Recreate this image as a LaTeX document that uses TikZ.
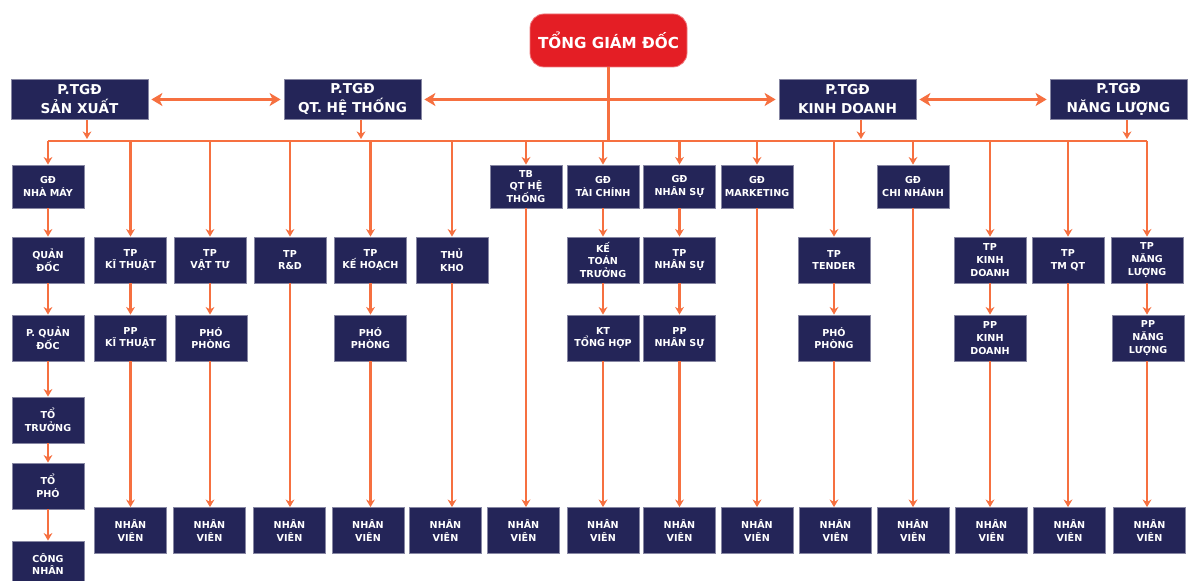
\documentclass[tikz,border=0pt]{standalone}
\usepackage{fontspec}
\setmainfont{DejaVu Sans}
\usetikzlibrary{arrows.meta}
\definecolor{navy}{RGB}{36,37,88}
\definecolor{org}{RGB}{246,112,64}
\definecolor{redbox}{RGB}{228,30,37}
\begin{document}
\begin{tikzpicture}[x=0.5pt,y=-0.5pt,
  box/.style={fill=navy, draw=navy!55!white, line width=0.4pt, text=white,
    font=\bfseries\fontsize{4.8}{6.3}\selectfont, align=center, inner sep=0pt,
    minimum width=36pt, minimum height=23pt},
  rowone/.style={box, minimum height=21.5pt},
  chief/.style={box, font=\bfseries\fontsize{6.8}{9.5}\selectfont, minimum width=68.5pt, minimum height=20pt},
  ceo/.style={fill=redbox, draw=redbox!60!white, line width=0.4pt, rounded corners=7pt, text=white,
    font=\bfseries\fontsize{7.6}{10}\selectfont, inner sep=0pt, minimum width=78.5pt, minimum height=26.5pt},
  link/.style={draw=org, line width=1.1pt},
  arr/.style={link, -{Stealth[length=3.8pt, width=4.4pt]}},
  darr/.style={link, {Stealth[length=5.5pt, width=6.5pt, inset=1.5pt]}-{Stealth[length=5.5pt, width=6.5pt, inset=1.5pt]}, shorten <=1.5pt, shorten >=1.5pt}
]
\fill[white] (0,0) rectangle (1188,581);
\useasboundingbox (0,0) rectangle (1188,581);
\begin{scope}
\clip (0,0) rectangle (1188,581);

% top
\node[ceo] (tgd) at (608.5,40.5) {TỔNG GIÁM ĐỐC};
\node[chief] (sx) at (79.5,99.5) {P.TGĐ\\SẢN XUẤT};
\node[chief] (qt) at (352.5,99.5) {P.TGĐ\\QT. HỆ THỐNG};
\node[chief] (kd) at (847.5,99.5) {P.TGĐ\\KINH DOANH};
\node[chief] (nl) at (1118.5,99.5) {P.TGĐ\\NĂNG LƯỢNG};

% bus coordinates
\coordinate (busY) at (0,141);
\coordinate (a1) at (87,141);
\coordinate (a2) at (361,141);
\coordinate (a3) at (861,141);
\coordinate (a4) at (1127,141);

% row 1
\node[rowone] (gdnm) at (48,186.5) {GĐ\\NHÀ MÁY};
\node[rowone] (tbqt) at (526,186.5) {TB\\QT HỆ\\THỐNG};
\node[rowone] (gdtc) at (603,186.5) {GĐ\\TÀI CHÍNH};
\node[rowone] (gdns) at (679.5,186.5) {GĐ\\NHÂN SỰ};
\node[rowone] (gdmk) at (757,186.5) {GĐ\\MARKETING};
\node[rowone] (gdcn) at (913,186.5) {GĐ\\CHI NHÁNH};

% row 2
\node[box] (qd) at (48,260) {QUẢN\\ĐỐC};
\node[box] (tpkt) at (130.5,260) {TP\\KĨ THUẬT};
\node[box] (tpvt) at (210,260) {TP\\VẬT TƯ};
\node[box] (tprd) at (290,260) {TP\\R\&D};
\node[box] (tpkh) at (370.5,260) {TP\\KẾ HOẠCH};
\node[box] (thukho) at (452,260) {THỦ\\KHO};
\node[box] (ktt) at (603,260) {KẾ\\TOÁN\\TRƯỞNG};
\node[box] (tpns) at (679.5,260) {TP\\NHÂN SỰ};
\node[box] (tptd) at (834,260) {TP\\TENDER};
\node[box] (tpkd) at (990,260) {TP\\KINH\\DOANH};
\node[box] (tptm) at (1068,260) {TP\\TM QT};
\node[box] (tpnl) at (1147,260) {TP\\NĂNG\\LƯỢNG};

% row 3
\node[box] (pqd) at (48,338) {P. QUẢN\\ĐỐC};
\node[box] (ppkt) at (130.5,338) {PP\\KĨ THUẬT};
\node[box] (ppvt) at (211,338) {PHÓ\\PHÒNG};
\node[box] (ppkh) at (370.5,338) {PHÓ\\PHÒNG};
\node[box] (kth) at (603,338) {KT\\TỔNG HỢP};
\node[box] (ppns) at (679.5,338) {PP\\NHÂN SỰ};
\node[box] (pptd) at (834,338) {PHÓ\\PHÒNG};
\node[box] (ppkd) at (990,338) {PP\\KINH\\DOANH};
\node[box] (ppnl) at (1148,338) {PP\\NĂNG\\LƯỢNG};

% left column lower
\node[box] (tt) at (48,420) {TỔ\\TRƯỞNG};
\node[box] (tph) at (48,486) {TỔ\\PHÓ};
\node[box] (cn) at (48,564) {CÔNG\\NHÂN};

% staff row
\node[box] (nv1) at (130.5,530.5) {NHÂN\\VIÊN};
\node[box] (nv2) at (209.5,530.5) {NHÂN\\VIÊN};
\node[box] (nv3) at (289.5,530.5) {NHÂN\\VIÊN};
\node[box] (nv4) at (368,530.5) {NHÂN\\VIÊN};
\node[box] (nv5) at (445.5,530.5) {NHÂN\\VIÊN};
\node[box] (nv6) at (523.5,530.5) {NHÂN\\VIÊN};
\node[box] (nv7) at (603,530.5) {NHÂN\\VIÊN};
\node[box] (nv8) at (679.5,530.5) {NHÂN\\VIÊN};
\node[box] (nv9) at (757,530.5) {NHÂN\\VIÊN};
\node[box] (nv10) at (835.5,530.5) {NHÂN\\VIÊN};
\node[box] (nv11) at (913,530.5) {NHÂN\\VIÊN};
\node[box] (nv12) at (991.5,530.5) {NHÂN\\VIÊN};
\node[box] (nv13) at (1069.5,530.5) {NHÂN\\VIÊN};
\node[box] (nv14) at (1149.5,530.5) {NHÂN\\VIÊN};

% top connectors
\draw[darr] (sx.east) -- (qt.west);
\draw[darr] (qt.east) -- (kd.west);
\draw[darr] (kd.east) -- (nl.west);
\draw[link] (tgd.south) -- (tgd.south |- busY);
\draw[link] (gdnm.north |- busY) -- (tpnl.north |- busY);
\draw[arr] (sx.south -| a1) -- ([yshift=1pt]a1);
\draw[arr] (qt.south -| a2) -- ([yshift=1pt]a2);
\draw[arr] (kd.south -| a3) -- ([yshift=1pt]a3);
\draw[arr] (nl.south -| a4) -- ([yshift=1pt]a4);

% bus to first boxes
\foreach \n in {gdnm,tbqt,gdtc,gdns,gdmk,gdcn,tpkt,tpvt,tprd,tpkh,thukho,tptd,tpkd,tptm,tpnl}
  \draw[arr] (\n.north |- busY) -- (\n.north);

% chains
\draw[arr] (gdnm) -- (qd);
\draw[arr] (qd) -- (pqd);
\draw[arr] (pqd) -- (tt);
\draw[arr] (tt) -- (tph);
\draw[arr] (tph) -- (cn);
\draw[arr] (tpkt) -- (ppkt);
\draw[arr] (tpvt.south) -- (tpvt.south |- ppvt.north);
\draw[arr] (tpkh) -- (ppkh);
\draw[arr] (gdtc) -- (ktt);
\draw[arr] (ktt) -- (kth);
\draw[arr] (gdns) -- (tpns);
\draw[arr] (tpns) -- (ppns);
\draw[arr] (tptd) -- (pptd);
\draw[arr] (tpkd) -- (ppkd);
\draw[arr] (tpnl.south) -- (tpnl.south |- ppnl.north);

% to staff
\draw[arr] (ppkt.south) -- (ppkt.south |- nv1.north);
\draw[arr] (tpvt.south |- ppvt.south) -- (tpvt.south |- nv2.north);
\draw[arr] (tprd.south) -- (tprd.south |- nv3.north);
\draw[arr] (ppkh.south) -- (ppkh.south |- nv4.north);
\draw[arr] (thukho.south) -- (thukho.south |- nv5.north);
\draw[arr] (tbqt.south) -- (tbqt.south |- nv6.north);
\draw[arr] (kth.south) -- (kth.south |- nv7.north);
\draw[arr] (ppns.south) -- (ppns.south |- nv8.north);
\draw[arr] (gdmk.south) -- (gdmk.south |- nv9.north);
\draw[arr] (pptd.south) -- (pptd.south |- nv10.north);
\draw[arr] (gdcn.south) -- (gdcn.south |- nv11.north);
\draw[arr] (ppkd.south) -- (ppkd.south |- nv12.north);
\draw[arr] (tptm.south) -- (tptm.south |- nv13.north);
\draw[arr] (tpnl.south |- ppnl.south) -- (tpnl.south |- nv14.north);
\end{scope}
\end{tikzpicture}
\end{document}
